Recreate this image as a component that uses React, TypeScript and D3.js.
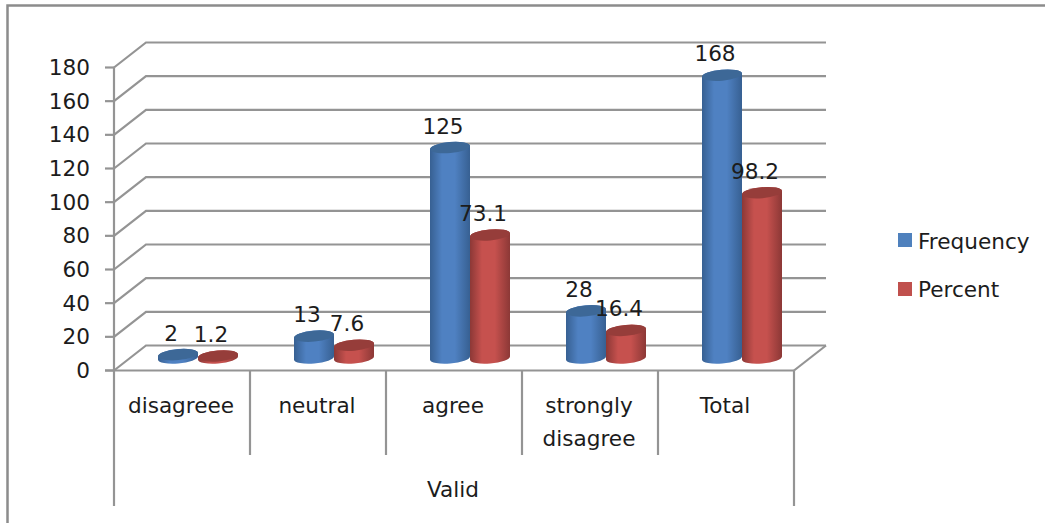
import React from "react";
import * as d3 from "d3";

const categories = ["disagreee", "neutral", "agree", "strongly disagree", "Total"];
const frequency = [2, 13, 125, 28, 168];
const percent = [1.2, 7.6, 73.1, 16.4, 98.2];
const yTicks = [0, 20, 40, 60, 80, 100, 120, 140, 160, 180];
const groupLabel = "Valid";
const seriesNames = ["Frequency", "Percent"];

const W = 1045;
const H = 523;
const FONT = "'DejaVu Sans', sans-serif";
const FONT_SIZE = 21.6;
const GRID = "#949494";
const TEXT = "#1c1c1c";

// Plot front plane and the shift of the back wall
const left = 114;
const right = 794;
const y0 = 370.5;
const y180 = 67.5;
const depthX = 32;
const depthY = -25;

const x = d3.scaleBand<string>().domain(categories).range([left, right]);
const y = d3.scaleLinear().domain([0, 180]).range([y0, y180]);

const barW = 40;
const ry = 5.5;
const floorShiftX = 16;
const floorShiftY = -12.5;

// Cylinder outline: two tilted ellipse arcs joined by straight sides
function cylinder(cx: number, yTop: number, yBottom: number) {
  const tilt = 1.7;
  const l = cx - barW / 2;
  const r = cx + barW / 2;
  return `M${l},${yTop + tilt} A${barW / 2},${ry} -5 0 1 ${r},${yTop - tilt} L${r},${yBottom - tilt} A${barW / 2},${ry} -5 0 1 ${l},${yBottom + tilt} Z`;
}

function Bar({ cx, value, id, top }: { cx: number; value: number; id: string; top: string }) {
  const yBottom = y(0) + floorShiftY;
  const yTop = y(value) + floorShiftY;
  return (
    <g>
      <path d={cylinder(cx, yTop, yBottom)} fill={`url(#${id})`} />
      <ellipse cx={cx} cy={yTop} rx={barW / 2} ry={ry} transform={`rotate(-5 ${cx} ${yTop})`} fill={top} />
    </g>
  );
}

function Gradient({ id, edge, mid }: { id: string; edge: string; mid: string }) {
  return (
    <linearGradient id={id} x1="0" x2="1" y1="0" y2="0">
      <stop offset="0" stopColor={edge} />
      <stop offset="0.3" stopColor={mid} />
      <stop offset="0.62" stopColor={mid} />
      <stop offset="1" stopColor={edge} />
    </linearGradient>
  );
}

export default function App() {
  const band = x.bandwidth();
  const series = [
    { values: frequency, id: "gradBlue", top: "#3d6897", shift: -barW / 2, swatch: "#4f81bd" },
    { values: percent, id: "gradRed", top: "#963d3a", shift: barW / 2, swatch: "#c0504d" },
  ];
  const axisStyle = { stroke: GRID, strokeWidth: 2.2, fill: "none" };

  return (
    <svg width={W} height={H} viewBox={`0 0 ${W} ${H}`} style={{ position: "absolute", left: 0, top: 0, background: "#fff" }} fontFamily={FONT}>
      <defs>
        <Gradient id="gradBlue" edge="#376092" mid="#4f81c2" />
        <Gradient id="gradRed" edge="#8c3836" mid="#c6514e" />
      </defs>

      {/* chart frame, cut off on the right and bottom */}
      <path d={`M7.5,${H} V5.5 H${W}`} fill="none" stroke="#8c8c8c" strokeWidth={2.5} />

      {/* gridlines: side wall and back wall */}
      {yTicks.map((t) => (
        <path
          key={t}
          d={`M${left},${y(t)} L${left + depthX},${y(t) + depthY} H${right + depthX}`}
          {...axisStyle}
        />
      ))}
      {/* floor, right edge */}
      <path d={`M${right},${y0} L${right + depthX},${y0 + depthY}`} {...axisStyle} />

      {/* value axis */}
      <path d={`M${left},${y180} V${y0}`} {...axisStyle} />
      {yTicks.map((t) => (
        <g key={t}>
          <line x1={left - 9} x2={left} y1={y(t)} y2={y(t)} stroke={GRID} strokeWidth={2.2} />
          <text x={90} y={y(t) + 7.5} fontSize={FONT_SIZE} fill={TEXT} textAnchor="end">
            {t}
          </text>
        </g>
      ))}

      {/* category axis with multi-level separators */}
      <line x1={left - 9} x2={right} y1={y0} y2={y0} {...axisStyle} />
      <line x1={left} x2={left} y1={y0} y2={506} {...axisStyle} />
      <line x1={right} x2={right} y1={y0} y2={506} {...axisStyle} />
      {categories.slice(1).map((c) => (
        <line key={c} x1={x(c)!} x2={x(c)!} y1={y0} y2={455} {...axisStyle} />
      ))}
      {categories.map((c) => {
        const words = c === "strongly disagree" ? ["strongly", "disagree"] : [c];
        return words.map((w, i) => (
          <text key={w} x={x(c)! + band / 2 - 1} y={413 + i * 33} fontSize={FONT_SIZE} fill={TEXT} textAnchor="middle">
            {w}
          </text>
        ));
      })}
      <text x={(left + right) / 2 - 1} y={497} fontSize={FONT_SIZE} fill={TEXT} textAnchor="middle">
        {groupLabel}
      </text>

      {/* cylinders, drawn left to right so each overlaps the previous one */}
      {categories.map((c, i) =>
        series.map((s) => (
          <Bar
            key={c + s.id}
            cx={x(c)! + band / 2 + floorShiftX + s.shift}
            value={s.values[i]}
            id={s.id}
            top={s.top}
          />
        ))
      )}

      {/* data labels */}
      {categories.map((c, i) =>
        series.map((s) => (
          <text
            key={c + s.id}
            x={x(c)! + band / 2 + floorShiftX + s.shift - 7}
            y={y(s.values[i]) + floorShiftY - 14}
            fontSize={FONT_SIZE}
            fill={TEXT}
            textAnchor="middle"
          >
            {s.values[i]}
          </text>
        ))
      )}

      {/* legend */}
      {seriesNames.map((name, i) => (
        <g key={name}>
          <rect x={898} y={233 + i * 49} width={14} height={14} fill={series[i].swatch} />
          <text x={918} y={248.5 + i * 48.5} fontSize={FONT_SIZE} fill={TEXT}>
            {name}
          </text>
        </g>
      ))}
    </svg>
  );
}
